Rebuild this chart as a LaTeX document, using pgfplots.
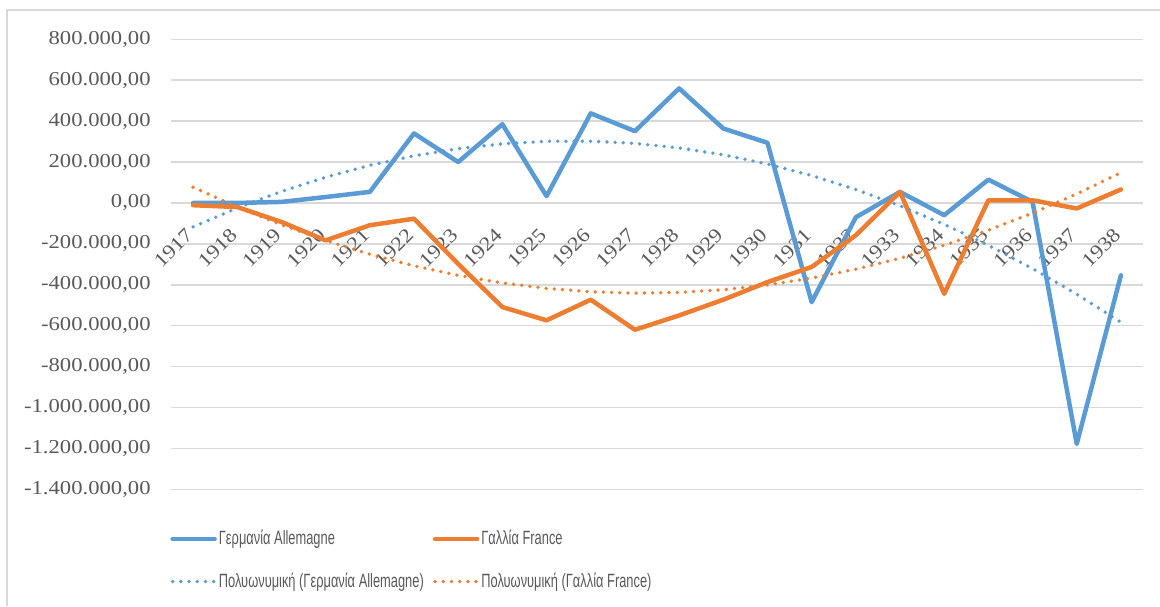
\documentclass[border=0pt]{standalone}
\usepackage{fontspec}
\setmainfont{Liberation Serif}[FakeStretch=1.15]
\newfontfamily\legfont{Liberation Sans}[FakeStretch=0.67]
\usepackage{pgfplots}
\pgfplotsset{compat=1.18}
\definecolor{xlblue}{RGB}{91,155,213}
\definecolor{xlorange}{RGB}{237,125,49}
\definecolor{xlgrid}{RGB}{217,217,217}
\definecolor{xltext}{RGB}{89,89,89}
\tikzset{
  dataline/.style={line width=2.25pt, line cap=round, line join=round},
  trendline/.style={line width=1.9pt, line cap=round, dash pattern=on 0pt off 4.1pt},
}
\begin{document}
\begin{tikzpicture}
\path[use as bounding box] (0,0) rectangle (580pt,-303pt);
\draw[xlgrid, line width=0.75pt] (3.5pt,-303pt) -- (3.5pt,-5pt) -- (580pt,-5pt);
\begin{axis}[
    at={(85.5pt,-244.65pt)}, anchor=south west,
    scale only axis, width=486pt, height=225pt,
    xmin=1916.5, xmax=1938.5, ymin=-1400000, ymax=800000,
    xtick={1917,1918,...,1938},
    ytick={-1400000,-1200000,...,800000},
    axis x line*=middle, axis y line*=left,
    axis line style={draw=none}, tick style={draw=none},
    hide obscured x ticks=false, hide obscured y ticks=false,
    ymajorgrids, grid style={xlgrid, line width=0.75pt},
    scaled y ticks=false,
    yticklabel style={font=\fontsize{9.85}{10}\selectfont, text=xltext,
      anchor=east, inner sep=0pt, xshift=-10pt,
      /pgf/number format/.cd, fixed, fixed zerofill, precision=2,
      use comma, 1000 sep={.}, assume math mode=true},
    xticklabel={\fontsize{9.85}{10}\selectfont
      \pgfmathprintnumber[fixed, precision=0, 1000 sep={}, assume math mode=true]{\tick}},
    xticklabel style={text=xltext, rotate=45, anchor=east, inner sep=0pt,
      xshift=-11.5pt, yshift=-9pt},
    legend columns=2,
    legend cell align=left,
    legend style={at={(0,0)}, anchor=north west, xshift=-0.5pt, yshift=-19.3pt,
      draw=none, fill=none, inner sep=0pt, row sep=10.5pt,
      font=\legfont\fontsize{9.6}{10}\selectfont, text=xltext,
      nodes={inner sep=1pt},
      /tikz/every even column/.append style={column sep=3.5pt}},
    legend image code/.code={\draw[#1] (0pt,0pt) -- (21pt,0pt);},
  ]
  % Germany
  \addplot[xlblue, dataline] coordinates {
    (1917,0) (1918,0) (1919,5000) (1920,29000) (1921,54000) (1922,340000)
    (1923,200000) (1924,385000) (1925,33000) (1926,438000) (1927,351000)
    (1928,560000) (1929,364000) (1930,294000) (1931,-485000) (1932,-70000)
    (1933,54000) (1934,-60000) (1935,114000) (1936,5000) (1937,-1178000)
    (1938,-354000)};
  \addlegendentry{Γερμανία Allemagne}
  % France
  \addplot[xlorange, dataline] coordinates {
    (1917,-11000) (1918,-20000) (1919,-93000) (1920,-183000) (1921,-109000)
    (1922,-77000) (1923,-298000) (1924,-509000) (1925,-574000) (1926,-473000)
    (1927,-620000) (1928,-550000) (1929,-473000) (1930,-387000) (1931,-313000)
    (1932,-158000) (1933,54000) (1934,-444000) (1935,13000) (1936,13000)
    (1937,-27000) (1938,66000)};
  \addlegendentry{Γαλλία France}
  % polynomial trend, Germany
  \addplot[xlblue, trendline] coordinates {
    (1917,-117000) (1918,-24612) (1919,56318) (1920,125790) (1921,183804)
    (1922,230360) (1923,265458) (1924,289098) (1925,301280) (1926,302004)
    (1927,291270) (1928,269078) (1929,235428) (1930,190320) (1931,133754)
    (1932,65730) (1933,-13752) (1934,-104692) (1935,-207090) (1936,-320946)
    (1937,-446260) (1938,-583032)};
  \addlegendentry{Πολυωνυμική (Γερμανία Allemagne)}
  % polynomial trend, France
  \addplot[xlorange, trendline] coordinates {
    (1917,77000) (1918,-19949) (1919,-106864) (1920,-183747) (1921,-250596)
    (1922,-307413) (1923,-354196) (1924,-390947) (1925,-417664) (1926,-434349)
    (1927,-441000) (1928,-437619) (1929,-424204) (1930,-400757) (1931,-367276)
    (1932,-323763) (1933,-270216) (1934,-206637) (1935,-133024) (1936,-49379)
    (1937,44300) (1938,148012)};
  \addlegendentry{Πολυωνυμική (Γαλλία France)}
\end{axis}
\end{tikzpicture}
\end{document}
